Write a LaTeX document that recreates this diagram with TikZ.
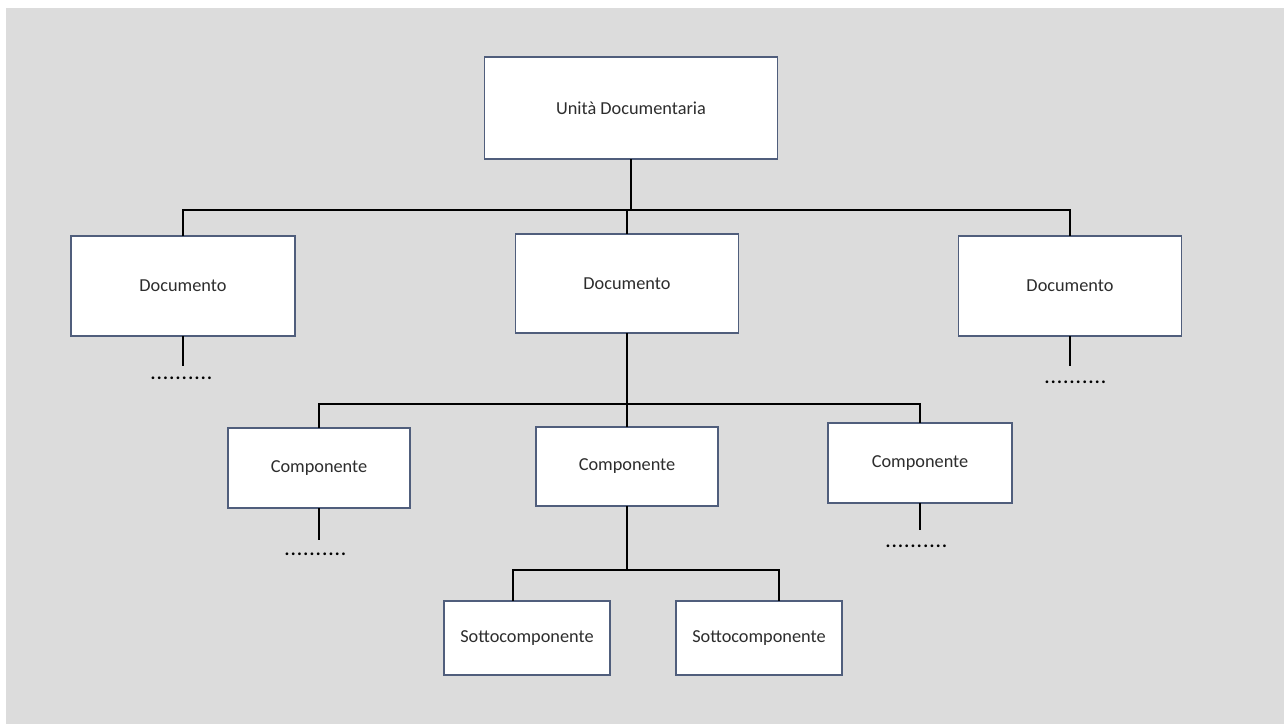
\documentclass[tikz,border=0pt]{standalone}
\usepackage{fontspec}
\setmainfont{Carlito}
\usetikzlibrary{calc}
\definecolor{bggray}{RGB}{220,220,220}
\definecolor{boxline}{RGB}{80,94,124}
\definecolor{txt}{RGB}{45,45,45}
\newcommand{\dotrow}{\foreach \k in {1,...,10}{.\kern1.4pt}}
\begin{document}
\begin{tikzpicture}[x=1pt,y=-1pt,
  box/.style={draw=boxline,line width=1.8pt,fill=white,rectangle,outer sep=0pt,
    inner sep=0pt,text=txt,font=\fontsize{18.3}{22}\selectfont},
  conn/.style={draw=black,line width=1.9pt},
  dotsrow/.style={inner sep=0pt,text=black,font=\bfseries\fontsize{18.3}{22}\selectfont}]
  % canvas
  \useasboundingbox (0,0) rectangle (1284,724);
  \fill[white] (0,0) rectangle (1284,724);
  \fill[bggray] (6,8) rectangle (1284,724);

  % boxes
  \node[box,minimum width=293,minimum height=102] (ud) at (631,108) {Unità Documentaria};
  \node[box,minimum width=224,minimum height=100] (d1) at (183,286) {Documento};
  \node[box,minimum width=223,minimum height=99]  (d2) at (627,283.5) {Documento};
  \node[box,minimum width=223,minimum height=100] (d3) at (1070,286) {Documento};
  \node[box,minimum width=182,minimum height=80]  (c1) at (319,468) {Componente};
  \node[box,minimum width=182,minimum height=79]  (c2) at (627,466.5) {Componente};
  \node[box,minimum width=184,minimum height=80]  (c3) at (920,463) {Componente};
  \node[box,minimum width=166,minimum height=74]  (s1) at (527,638) {Sottocomponente};
  \node[box,minimum width=166,minimum height=74]  (s2) at (759,638) {Sottocomponente};

  % bus junctions
  \coordinate (bus1) at (631,210);
  \coordinate (bus2) at (627,404);
  \coordinate (bus3) at (627,570);
  \coordinate (s1top) at ($(s1.north west)+(69,0)$);
  \coordinate (s2top) at ($(s2.north west)+(103,0)$);

  % first level
  \draw[conn] (ud.south) -- (bus1);
  \draw[conn] (d1.north) |- (bus1) -| (d3.north);
  \draw[conn] (bus1 -| d2.north) -- (d2.north);

  % second level
  \draw[conn] (d2.south) -- (bus2);
  \draw[conn] (c1.north) |- (bus2) -| (c3.north);
  \draw[conn] (bus2 -| c2.north) -- (c2.north);

  % third level
  \draw[conn] (c2.south) -- (bus3);
  \draw[conn] (s1top) |- (bus3) -| (s2top);

  % open branches
  \draw[conn] (d1.south) -- ++(0,30);
  \draw[conn] (d3.south) -- ++(0,30);
  \draw[conn] (c1.south) -- ++(0,32);
  \draw[conn] (c3.south) -- ++(0,27);
  \node[dotsrow] (e1) at (182,378) {\dotrow};
  \node[dotsrow] (e2) at (1076,382) {\dotrow};
  \node[dotsrow] (e3) at (316,554) {\dotrow};
  \node[dotsrow] (e4) at (917,546) {\dotrow};
\end{tikzpicture}
\end{document}
